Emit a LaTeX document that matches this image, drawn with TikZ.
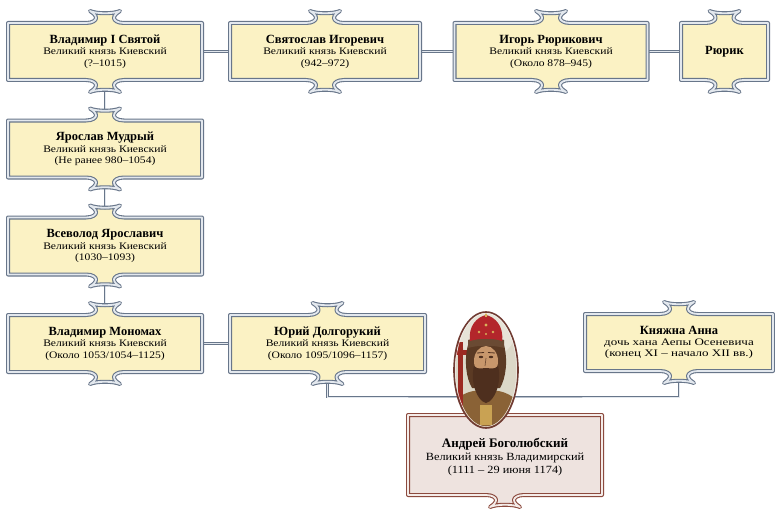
\documentclass[tikz,border=0pt]{standalone}
\usepackage{fontspec}
\setmainfont{Liberation Serif}
\newfontfamily\bodyfont[FakeStretch=1.16]{Liberation Serif}
\newfontfamily\widefont[FakeStretch=1.3]{Liberation Serif}
\newfontfamily\andfont[FakeStretch=1.12]{Liberation Serif}
\usetikzlibrary{shapes.geometric,calc}
\pgfdeclarelayer{bg}
\pgfdeclarelayer{fr}
\pgfsetlayers{bg,fr,main}
\definecolor{boxfill}{HTML}{FBF2C4}
\definecolor{boxline}{HTML}{68768A}
\definecolor{boxgap}{HTML}{E3E8EE}
\definecolor{redfill}{HTML}{EEE3DF}
\definecolor{redline}{HTML}{8C4A3E}
\definecolor{redgap}{HTML}{F4ECE9}
\definecolor{pbg}{HTML}{DCD8C8}
\definecolor{probe}{HTML}{8A6236}
\definecolor{pcross}{HTML}{9C2A22}
\definecolor{phair}{HTML}{5B3A24}
\definecolor{pbeard}{HTML}{4E2F1E}
\definecolor{pskin}{HTML}{C8976C}
\definecolor{pfur}{HTML}{6A4A33}
\definecolor{pcrown}{HTML}{B3262B}
\definecolor{pgold}{HTML}{D9B25A}
\tikzset{
  lbl/.style={align=center, inner sep=0pt, outer sep=0pt, minimum height=57pt,
    font=\bodyfont\fontsize{10}{11.5}\selectfont},
  conn/.style={draw=boxline, line width=.6pt, double=boxgap, double distance=.9pt},
  frameline/.style={line width=1.1pt, double distance=1.8pt, line join=round},
  toptab/.style={insert path={
   -- ([shift={(-19,0)}]#1.north)
   .. controls +(7,0) and +(0,2) .. ([shift={(-9,-5)}]#1.north)
   .. controls +(0,-3) and +(3,2) .. ([shift={(-15,-12)}]#1.north)
   .. controls +(7,3) and +(-7,3) .. ([shift={(15,-12)}]#1.north)
   .. controls +(-3,2) and +(0,-3) .. ([shift={(9,-5)}]#1.north)
   .. controls +(0,2) and +(-7,0) .. ([shift={(19,0)}]#1.north)}},
  bottab/.style={insert path={
   -- ([shift={(19,0)}]#1.south)
   .. controls +(-7,0) and +(0,-2) .. ([shift={(9,5)}]#1.south)
   .. controls +(0,3) and +(-3,-2) .. ([shift={(15,12)}]#1.south)
   .. controls +(-7,-3) and +(7,-3) .. ([shift={(-15,12)}]#1.south)
   .. controls +(3,-2) and +(0,3) .. ([shift={(-9,5)}]#1.south)
   .. controls +(0,-2) and +(7,0) .. ([shift={(-19,0)}]#1.south)}},
}
\newcommand\ttl[1]{{\rmfamily\fontsize{12.5}{11.5}\selectfont\bfseries #1}}
% #1 node name, #2 fill, #3 line, #4 gap
\newcommand\ornframe[4]{%
\begin{pgfonlayer}{fr}
\draw[frameline,draw=#3,double=#4,fill=#2]
 (#1.north west) [toptab=#1] -- (#1.north east) -- (#1.south east)
 [bottab=#1] -- (#1.south west) -- cycle;
\end{pgfonlayer}}
\newcommand\ornframeb[4]{%
\begin{pgfonlayer}{fr}
\draw[frameline,draw=#3,double=#4,fill=#2]
 (#1.north west) -- (#1.north east) -- (#1.south east)
 [bottab=#1] -- (#1.south west) -- cycle;
\end{pgfonlayer}}
\begin{document}
\begin{tikzpicture}[x=1pt,y=-1pt]
\useasboundingbox (0,0) rectangle (775,508);
\begin{pgfonlayer}{bg}
\fill[white] (0,0) rectangle (775,508);
\end{pgfonlayer}
% row 1
\node[lbl,minimum width=194pt] (vlad) at (105,51.5)
  {\ttl{Владимир I Святой}\\Великий князь Киевский\\(?–1015)};
\node[lbl,minimum width=190pt] (svyat) at (325,51.5)
  {\ttl{Святослав Игоревич}\\Великий князь Киевский\\(942–972)};
\node[lbl,minimum width=193pt] (igor) at (551,51.5)
  {\ttl{Игорь Рюрикович}\\Великий князь Киевский\\(Около 878–945)};
\node[lbl,minimum width=87pt] (ryurik) at (724.5,51.5) {\ttl{Рюрик}};
% column
\node[lbl,minimum width=194pt] (yarosl) at (105,149)
  {\ttl{Ярослав Мудрый}\\Великий князь Киевский\\(Не ранее 980–1054)};
\node[lbl,minimum width=194pt] (vsev) at (105,246)
  {\ttl{Всеволод Ярославич}\\Великий князь Киевский\\(1030–1093)};
\node[lbl,minimum width=194pt] (mono) at (105,343.5)
  {\ttl{Владимир Мономах}\\Великий князь Киевский\\(Около 1053/1054–1125)};
\node[lbl,minimum width=195pt] (yuri) at (327.5,343.5)
  {\ttl{Юрий Долгорукий}\\Великий князь Киевский\\(Около 1095/1096–1157)};
\node[lbl,minimum width=188pt,font=\widefont\fontsize{10}{11}\selectfont] (anna) at (679,342.5)
  {\ttl{Княжна Анна}\\дочь хана Аепы Осеневича\\(конец XI – начало XII вв.)};
\node[lbl,minimum width=194pt,minimum height=80pt,font=\andfont\fontsize{11}{13}\selectfont] (andrey) at (505,455)
  {\\[1pt]{\rmfamily\fontsize{13}{13}\selectfont\bfseries Андрей Боголюбский}\\Великий князь Владимирский\\(1111 – 29 июня 1174)};
% frames
\ornframe{vlad}{boxfill}{boxline}{boxgap}
\ornframe{svyat}{boxfill}{boxline}{boxgap}
\ornframe{igor}{boxfill}{boxline}{boxgap}
\ornframe{ryurik}{boxfill}{boxline}{boxgap}
\ornframe{yarosl}{boxfill}{boxline}{boxgap}
\ornframe{vsev}{boxfill}{boxline}{boxgap}
\ornframe{mono}{boxfill}{boxline}{boxgap}
\ornframe{yuri}{boxfill}{boxline}{boxgap}
\ornframe{anna}{boxfill}{boxline}{boxgap}
\ornframeb{andrey}{redfill}{redline}{redgap}
% connectors
\coordinate (bar) at (487,397);
\begin{pgfonlayer}{bg}
\draw[conn] (vlad.east) -- (svyat.west);
\draw[conn] (svyat.east) -- (igor.west);
\draw[conn] (igor.east) -- (ryurik.west);
\draw[conn] (vlad.south) -- (yarosl.north);
\draw[conn] (yarosl.south) -- (vsev.north);
\draw[conn] (vsev.south) -- (mono.north);
\draw[conn] (mono.east) -- (yuri.west);
\draw[conn] (yuri.south) |- (bar) -| (anna.south);
\end{pgfonlayer}
% portrait
\node[ellipse,minimum width=64pt,minimum height=116pt,inner sep=0pt] (por) at (486,370) {};
\begin{scope}
\clip (486,370) ellipse [x radius=32, y radius=58];
\fill[pbg] (450,305) rectangle (525,435);
\fill[pbg!70!white] (486,330) ellipse [x radius=30, y radius=28];
% robe
\fill[probe] (448,435) -- (451,405) .. controls (461,392) and (475,389) .. (486,391)
  .. controls (497,389) and (511,392) .. (521,405) -- (524,435) -- cycle;
\fill[pgold!80!probe] (480,405) rectangle (492,425);
% cross
\fill[pcross] (458,342) rectangle (463,412);
\fill[pcross] (452,350) rectangle (469,355);
% hair
\fill[phair] (468,345) .. controls (464,360) and (466,378) .. (472,388)
  -- (500,388) .. controls (506,378) and (508,360) .. (504,345) -- cycle;
% face
\fill[pskin] (486,361) ellipse [x radius=12, y radius=15];
% eyes and brows
\fill[pbeard] (481,357) ellipse [x radius=2.2, y radius=1.2];
\fill[pbeard] (491,357) ellipse [x radius=2.2, y radius=1.2];
\draw[pbeard,line width=.8pt] (477,353) -- (484,352.5) (488,352.5) -- (495,353);
\draw[pbeard!70!pskin,line width=.7pt] (486,358) -- (485,366);
% beard
\fill[pbeard] (474,366) .. controls (470,382) and (477,401) .. (486,403)
  .. controls (495,401) and (502,382) .. (498,366)
  .. controls (494,370) and (490,368) .. (486,368)
  .. controls (482,368) and (478,370) .. (474,366) -- cycle;
% fur band
\fill[pfur] (468,340) .. controls (477,337) and (495,337) .. (504,340)
  -- (504,348) .. controls (495,345) and (477,345) .. (468,348) -- cycle;
% crown
\fill[pcrown] (470,341) .. controls (468,326) and (477,317) .. (486,315)
  .. controls (495,317) and (504,326) .. (502,341)
  .. controls (493,338) and (479,338) .. (470,341) -- cycle;
\fill[pgold] (486,325) circle (1.6) (479,332) circle (1.3) (493,332) circle (1.3)
  (486,334) circle (1.2);
\fill[pgold] (485,312) rectangle (487,317);
\end{scope}
\draw[redline!80!black,line width=1.6pt] (por.center) ellipse [x radius=32, y radius=58];
\draw[redgap,line width=.5pt] (por.center) ellipse [x radius=30.6, y radius=56.6];
\end{tikzpicture}
\end{document}
